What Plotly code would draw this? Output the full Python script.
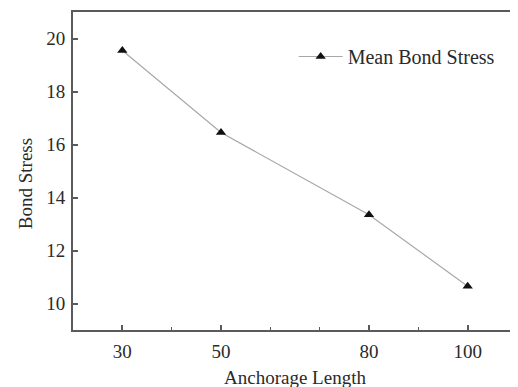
import plotly.graph_objects as go

anchorage_length = [30, 50, 80, 100]
mean_bond_stress = [19.55, 16.45, 13.35, 10.65]
x_tick_vals = [30, 50, 80, 100]
x_tick_text = ["30", "50", "80", "100"]
y_tick_vals = [10, 12, 14, 16, 18, 20]

FONT = "Liberation Serif, Times New Roman, serif"
TXT = "#2a2a2a"
AX = "#5a5a5a"

fig = go.Figure()
fig.add_trace(go.Scatter(
    x=anchorage_length, y=mean_bond_stress,
    mode="lines+markers", name="Mean Bond Stress",
    line=dict(color="#a8a8a8", width=1.2),
    marker=dict(symbol="triangle-up", size=9, color="#111111"),
))

fig.update_layout(
    width=518, height=387,
    margin=dict(l=65, r=9, t=2, b=65),
    paper_bgcolor="white", plot_bgcolor="white",
    font=dict(family=FONT, size=19, color=TXT),
    showlegend=True,
    legend=dict(x=0.497, y=0.86, xanchor="left", yanchor="middle",
                bgcolor="rgba(0,0,0,0)", font=dict(size=20, color=TXT),
                itemwidth=44),
)
fig.update_xaxes(
    range=[20, 110], tickmode="array", tickvals=x_tick_vals, ticktext=x_tick_text,
    ticks="inside", ticklen=5, tickwidth=1.5, tickcolor=AX,
    minor=dict(dtick=10, tick0=0, ticks="inside", ticklen=3, tickcolor=AX, tickwidth=1),
    showline=True, linecolor=AX, linewidth=2, mirror=True,
    showgrid=False, zeroline=False, ticklabelstandoff=3,
    tickfont=dict(size=19, color=TXT),
)
fig.update_yaxes(
    range=[9, 21], tickmode="array", tickvals=y_tick_vals,
    ticks="inside", ticklen=5, tickwidth=1.5, tickcolor=AX,
    showline=True, linecolor=AX, linewidth=2, mirror=True,
    showgrid=False, zeroline=False, ticklabelstandoff=2,
    tickfont=dict(size=19, color=TXT),
)
fig.add_annotation(text="Anchorage Length", xref="paper", yref="paper",
                   x=0.5, y=-0.15, xanchor="center", yanchor="middle",
                   showarrow=False, font=dict(size=19, color=TXT))
fig.add_annotation(text="Bond Stress", xref="paper", yref="paper",
                   x=-0.107, y=0.46, xanchor="center", yanchor="middle",
                   textangle=-90, showarrow=False, font=dict(size=19, color=TXT))

fig.write_html("out.html")
